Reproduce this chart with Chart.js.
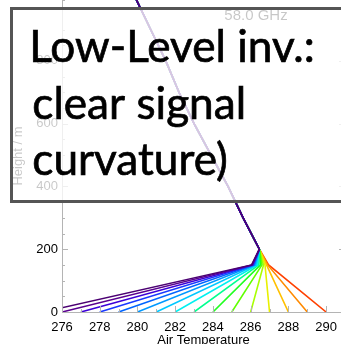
<!DOCTYPE html>
<html>
<head>
<meta charset="utf-8">
<script src="https://cdn.jsdelivr.net/npm/chart.js@4.4.0/dist/chart.umd.min.js"></script>
<style>
html, body { margin: 0; padding: 0; overflow: hidden; background: #fff; }
#wrap { position: absolute; left: 0; top: 0; width: 345px; height: 350px; }
</style>
</head>
<body>
<div id="wrap"><canvas id="profileChart" width="345" height="350"></canvas></div>
<script>
// surface temperature of each profile (K) and temperature where it kinks at 150 m
const surfaceTemps = [275, 276, 277, 278, 279, 280, 281, 282, 283, 284, 285, 286, 287, 288, 289, 290];
const kinkTemps = [286.05, 286.07, 286.10, 286.13, 286.17, 286.22, 286.28, 286.35, 286.43, 286.52, 286.60, 286.68, 286.76, 286.84, 286.90, 286.95];
const kinkHeight = 150;
// shared profile above the inversion
const upperHeights = [200, 300, 400, 500, 600, 700, 800, 900, 1000];
const upperTemps = [286.46, 285.6, 284.8, 283.9, 283.0, 282.2, 281.5, 280.7, 279.9];
const lineColors = ['#4b0072', '#5a0090', '#3c00d8', '#1838ff', '#0064ff', '#0098ff', '#00c8ff', '#00f0f0',
                    '#00ff90', '#20ff20', '#60ff00', '#a8ff00', '#e8f000', '#ffc000', '#ff8a00', '#ff4000'];
const freqLabel = '58.0 GHz';
const noteLines = ['Low-Level inv.:', 'clear signal', 'curvature)'];

const datasets = surfaceTemps.map(function(ts, i) {
    const pts = [{x: ts, y: 0}, {x: kinkTemps[i], y: kinkHeight}];
    upperHeights.forEach(function(h, j) { pts.push({x: upperTemps[j], y: h}); });
    return {
        data: pts,
        showLine: true,
        borderColor: lineColors[i],
        borderWidth: 1.6,
        pointRadius: 0,
        tension: 0,
        fill: false
    };
});

const axisGray = '#b4b4b4';

// IDL style inward ticks, axis box, frequency label and the note box
const overlay = {
    id: 'overlay',
    afterDraw(chart) {
        const ctx = chart.ctx;
        const a = chart.chartArea;
        const xs = chart.scales.x, ys = chart.scales.y;
        ctx.save();
        ctx.strokeStyle = axisGray;
        ctx.lineWidth = 1;
        ctx.beginPath();
        ctx.moveTo(a.left + 0.5, a.top);
        ctx.lineTo(a.left + 0.5, a.bottom + 0.5);
        ctx.lineTo(a.right - 0.5, a.bottom + 0.5);
        ctx.lineTo(a.right - 0.5, a.top);
        xs.ticks.forEach(function(t) {
            const px = Math.round(xs.getPixelForValue(t.value)) + 0.5;
            const len = t.label !== '' ? 6 : 3;
            ctx.moveTo(px, a.bottom);
            ctx.lineTo(px, a.bottom - len);
        });
        ys.ticks.forEach(function(t) {
            const py = Math.round(ys.getPixelForValue(t.value)) + 0.5;
            const len = t.label !== '' ? 6 : 3;
            ctx.moveTo(a.left, py);
            ctx.lineTo(a.left + len, py);
            ctx.moveTo(a.right, py);
            ctx.lineTo(a.right - len, py);
        });
        ctx.stroke();

        ctx.fillStyle = '#000';
        ctx.font = '15px "Liberation Sans", Arial, sans-serif';
        ctx.textAlign = 'center';
        ctx.textBaseline = 'alphabetic';
        ctx.fillText(freqLabel, 256, 20);

        // translucent note box
        ctx.fillStyle = 'rgba(255,255,255,0.78)';
        ctx.fillRect(11.5, 8.5, 360, 193);
        ctx.strokeStyle = '#555';
        ctx.lineWidth = 3;
        ctx.strokeRect(11.5, 8.5, 360, 193);

        ctx.fillStyle = '#000';
        ctx.strokeStyle = '#000';
        ctx.lineWidth = 0.7;
        ctx.textAlign = 'left';
        ctx.font = '40px Lato, sans-serif';
        let m = ctx.measureText(noteLines[0]);
        const size = 40 * 280 / (m.actualBoundingBoxLeft + m.actualBoundingBoxRight);
        ctx.font = size + 'px Lato, sans-serif';
        const baselines = [62, 118.5, 175];
        noteLines.forEach(function(line, i) {
            const mm = ctx.measureText(line);
            const tx = 33.3 + mm.actualBoundingBoxLeft;
            ctx.fillText(line, tx, baselines[i]);
            ctx.strokeText(line, tx, baselines[i]);
        });
        ctx.restore();
    }
};

const tickFont = {family: '"Liberation Sans", Arial, sans-serif', size: 13};

new Chart(document.getElementById('profileChart').getContext('2d'), {
    type: 'scatter',
    data: {datasets: datasets},
    options: {
        responsive: false,
        animation: false,
        layout: {padding: 0},
        plugins: {legend: {display: false}, tooltip: {enabled: false}},
        scales: {
            x: {
                type: 'linear',
                min: 276,
                max: 291,
                grid: {display: false, drawTicks: false},
                border: {display: false},
                ticks: {
                    stepSize: 1,
                    autoSkip: false,
                    maxRotation: 0,
                    padding: 8,
                    color: '#000',
                    font: tickFont,
                    callback: function(v) { return (v % 2 === 0 && v <= 290) ? String(v) : ''; }
                },
                title: {display: true, text: 'Air Temperature', color: '#000', font: tickFont, padding: {top: 0, bottom: 2}},
                afterFit: function(s) { s.height = 38; s.paddingLeft = 0; s.paddingRight = 0; }
            },
            y: {
                type: 'linear',
                min: 0,
                max: 994,
                grid: {display: false, drawTicks: false},
                border: {display: false},
                ticks: {
                    stepSize: 50,
                    autoSkip: false,
                    padding: 4,
                    color: '#000',
                    font: tickFont,
                    callback: function(v) { return v % 200 === 0 ? String(v) : ''; }
                },
                title: {display: true, text: 'Height / m', color: '#000', font: tickFont, padding: {top: 10.4, bottom: 0}},
                afterFit: function(s) { s.width = 62; s.paddingTop = 0; s.paddingBottom = 0; }
            }
        }
    },
    plugins: [overlay]
});
</script>
</body>
</html>
